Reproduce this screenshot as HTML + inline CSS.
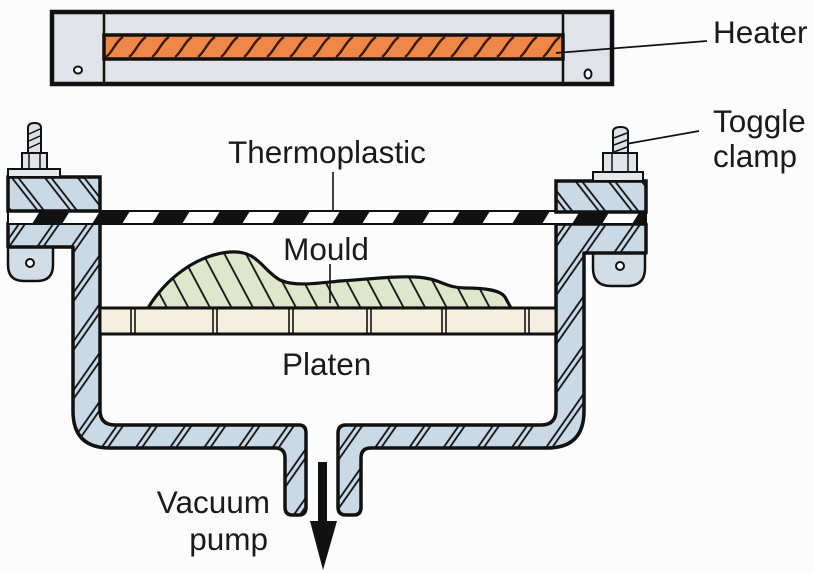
<!DOCTYPE html>
<html>
<head>
<meta charset="utf-8">
<style>
html,body{margin:0;padding:0;background:#fcfcfc;}
svg{display:block;}
text{font-family:"Liberation Sans",Arial,sans-serif;fill:#1a1a1a;}
</style>
</head>
<body>
<svg width="814" height="573" viewBox="0 0 814 573" xmlns="http://www.w3.org/2000/svg">
<defs>
  <pattern id="hA" width="28" height="28" patternUnits="userSpaceOnUse" patternTransform="rotate(35)">
    <rect width="28" height="28" fill="#c9d9e6"/>
    <line x1="4" y1="0" x2="4" y2="28" stroke="#111" stroke-width="1.8"/>
    <line x1="9" y1="0" x2="9" y2="28" stroke="#111" stroke-width="1.8"/>
  </pattern>
  <pattern id="hB" width="26" height="26" patternUnits="userSpaceOnUse" patternTransform="rotate(-38)">
    <rect width="26" height="26" fill="#c9d9e6"/>
    <line x1="4" y1="0" x2="4" y2="26" stroke="#111" stroke-width="1.8"/>
    <line x1="9" y1="0" x2="9" y2="26" stroke="#111" stroke-width="1.8"/>
  </pattern>
  <pattern id="hM" width="19" height="19" patternUnits="userSpaceOnUse" patternTransform="rotate(-28)">
    <rect width="19" height="19" fill="#e0e6cc"/>
    <line x1="3" y1="0" x2="3" y2="19" stroke="#111" stroke-width="1.8"/>
  </pattern>
  <pattern id="sheet" x="0" y="211" width="60" height="13" patternUnits="userSpaceOnUse">
    <rect width="60" height="13" fill="#111"/>
    <polygon points="10,0 40,0 32,13 2,13" fill="#fff"/>
  </pattern>
  <pattern id="tw" x="104" y="36" width="23" height="22" patternUnits="userSpaceOnUse">
    <rect width="23" height="22" fill="#ee8748"/>
    <path d="M2,21 C8,17 12,5 19,1" stroke="#3a1a0a" stroke-width="2.4" fill="none"/>
  </pattern>
</defs>

<!-- Heater -->
<rect x="52" y="12" width="560" height="72" fill="#e1e3e9" stroke="#111" stroke-width="4.5"/>
<line x1="104" y1="12" x2="104" y2="84" stroke="#111" stroke-width="2.5"/>
<line x1="563" y1="12" x2="563" y2="84" stroke="#111" stroke-width="2.5"/>
<rect x="104" y="35" width="459" height="24" fill="url(#tw)" stroke="#111" stroke-width="3.5"/>
<ellipse cx="78" cy="70" rx="4" ry="3.5" fill="#fff" stroke="#111" stroke-width="2"/>
<ellipse cx="588" cy="74" rx="3.5" ry="4.5" fill="#fff" stroke="#111" stroke-width="2"/>
<line x1="556" y1="53" x2="707" y2="41" stroke="#111" stroke-width="1.8"/>
<text x="713" y="43" font-size="31.5">Heater</text>

<!-- Toggle clamp labels -->
<text x="713" y="132" font-size="31.5">Toggle</text>
<text x="713" y="167" font-size="31.5">clamp</text>
<line x1="626" y1="144" x2="699" y2="131" stroke="#111" stroke-width="1.8"/>

<!-- Thermoplastic label -->
<text x="228" y="163" font-size="31.5">Thermoplastic</text>
<line x1="333" y1="172" x2="333" y2="222" stroke="#111" stroke-width="1.6"/>

<!-- Hinge tabs -->
<path d="M8,245 L53,245 L53,265 Q53,281 37,281 L24,281 Q8,281 8,265 Z" fill="#d3dde6" stroke="#111" stroke-width="2.5"/>
<circle cx="30" cy="263" r="4" fill="#fff" stroke="#111" stroke-width="2"/>
<path d="M593,251 L645,251 L645,268 Q645,286 627,286 L611,286 Q593,286 593,268 Z" fill="#d3dde6" stroke="#111" stroke-width="2.5"/>
<circle cx="620" cy="266" r="4" fill="#fff" stroke="#111" stroke-width="2"/>

<!-- Box walls -->
<path d="M8,223 L100,223 L100,410 Q100,425 115,425 L299,425 Q306,425 306,433 L306,507 Q306,515 299,515 L292,515 Q285,515 285,507 L285,458 Q285,448 275,448 L110,448 Q73,448 73,411 L73,247 L8,247 Z" fill="url(#hA)" stroke="#111" stroke-width="3.5" stroke-linejoin="round"/>
<path d="M646,224 L556,224 L556,410 Q556,425 541,425 L346,425 Q338,425 338,433 L338,507 Q338,515 346,515 L354,515 Q361,515 361,507 L361,458 Q361,448 371,448 L547,448 Q584,448 584,411 L584,253 L646,253 Z" fill="url(#hA)" stroke="#111" stroke-width="3.5" stroke-linejoin="round"/>

<!-- Thermoplastic sheet -->
<rect x="8" y="211" width="638" height="13" fill="url(#sheet)" stroke="#111" stroke-width="2"/>

<!-- Upper flanges -->
<rect x="8" y="177" width="92" height="34" fill="url(#hB)" stroke="#111" stroke-width="3.5"/>
<rect x="556" y="181" width="90" height="31" fill="url(#hB)" stroke="#111" stroke-width="3.5"/>

<!-- Washers, nuts, studs -->
<rect x="8" y="169" width="52" height="8" fill="#e6e9ec" stroke="#111" stroke-width="2"/>
<rect x="22" y="153" width="25" height="16" fill="#e1e5e9" stroke="#111" stroke-width="2"/>
<line x1="29" y1="153" x2="29" y2="169" stroke="#111" stroke-width="1.5"/>
<line x1="40" y1="153" x2="40" y2="169" stroke="#111" stroke-width="1.5"/>
<path d="M28,153 L28,128 Q28,123 34.5,123 Q41,123 41,128 L41,153 Z" fill="#dde1e6" stroke="#111" stroke-width="2"/>
<line x1="29" y1="134" x2="40" y2="129" stroke="#111" stroke-width="1.5"/>
<line x1="29" y1="141" x2="40" y2="136" stroke="#111" stroke-width="1.5"/>
<line x1="29" y1="148" x2="40" y2="143" stroke="#111" stroke-width="1.5"/>

<rect x="593" y="172" width="50" height="9" fill="#e6e9ec" stroke="#111" stroke-width="2"/>
<rect x="603" y="153" width="34" height="19" fill="#e1e5e9" stroke="#111" stroke-width="2"/>
<line x1="612" y1="153" x2="612" y2="172" stroke="#111" stroke-width="1.5"/>
<line x1="628" y1="153" x2="628" y2="172" stroke="#111" stroke-width="1.5"/>
<path d="M613,153 L613,132 Q613,127 620.5,127 Q628,127 628,132 L628,153 Z" fill="#dde1e6" stroke="#111" stroke-width="2"/>
<line x1="614" y1="138" x2="627" y2="133" stroke="#111" stroke-width="1.5"/>
<line x1="614" y1="145" x2="627" y2="140" stroke="#111" stroke-width="1.5"/>
<line x1="614" y1="152" x2="627" y2="147" stroke="#111" stroke-width="1.5"/>

<!-- Mould -->
<path d="M148,308 C165,280 195,255 230,252 C258,250 262,270 280,280 C295,287 320,283 340,281 C370,279 395,276 415,277 C440,278 445,288 465,288 C485,288 500,290 505,297 L511,308 Z" fill="url(#hM)" stroke="#111" stroke-width="3.2" stroke-linejoin="round"/>

<!-- Platen -->
<rect x="100" y="308" width="456" height="26" fill="#f5efe0" stroke="#111" stroke-width="3"/>
<g stroke="#111" stroke-width="1.6">
  <line x1="131" y1="309" x2="131" y2="333"/><line x1="135" y1="309" x2="135" y2="333"/>
  <line x1="213" y1="309" x2="213" y2="333"/><line x1="217" y1="309" x2="217" y2="333"/>
  <line x1="289" y1="309" x2="289" y2="333"/><line x1="293" y1="309" x2="293" y2="333"/>
  <line x1="367" y1="309" x2="367" y2="333"/><line x1="371" y1="309" x2="371" y2="333"/>
  <line x1="442" y1="309" x2="442" y2="333"/><line x1="446" y1="309" x2="446" y2="333"/>
  <line x1="525" y1="309" x2="525" y2="333"/><line x1="529" y1="309" x2="529" y2="333"/>
</g>

<!-- Mould label -->
<text x="326" y="260" font-size="31.5" text-anchor="middle">Mould</text>
<line x1="330" y1="264" x2="330" y2="303" stroke="#111" stroke-width="1.6"/>

<!-- Platen label -->
<text x="282" y="375" font-size="31.5">Platen</text>

<!-- Vacuum arrow -->
<rect x="318" y="462" width="9" height="62" fill="#111"/>
<polygon points="310,521 337,521 323,570" fill="#111"/>

<text x="270" y="513" font-size="31.5" text-anchor="end">Vacuum</text>
<text x="268" y="550" font-size="31.5" text-anchor="end">pump</text>
</svg>
</body>
</html>
